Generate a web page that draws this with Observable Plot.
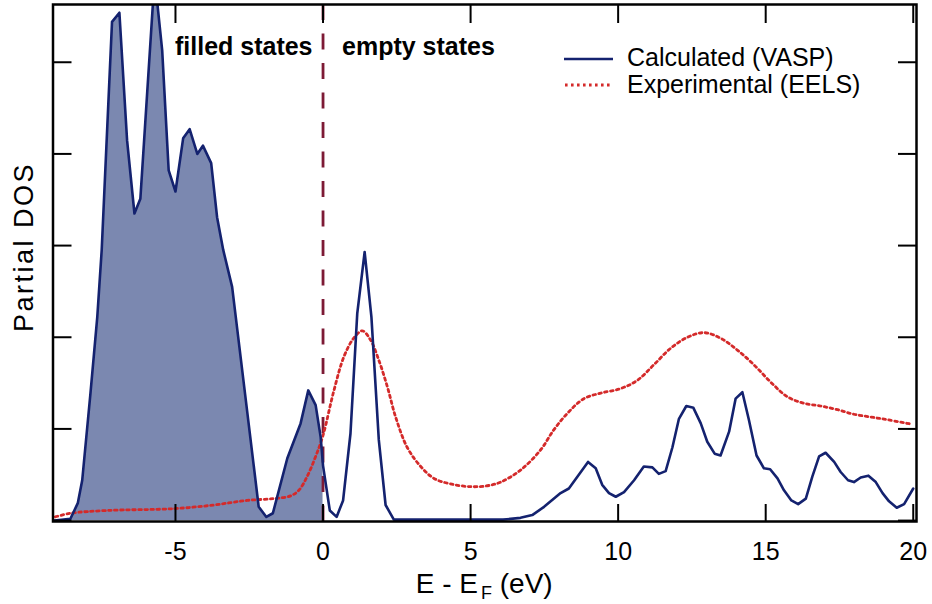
<!DOCTYPE html>
<html>
<head>
<meta charset="utf-8">
<script src="https://cdn.jsdelivr.net/npm/d3@7"></script>
<script src="https://cdn.jsdelivr.net/npm/@observablehq/plot@0.6"></script>
<style>
  html, body { margin: 0; padding: 0; background: #fff; }
  #chart { width: 932px; height: 604px; }
  svg { display: block; }
</style>
</head>
<body>
<div id="chart"></div>
<script>
// Calculated partial DOS (VASP): energy relative to the Fermi level (eV) and DOS
const calcEnergy = [
  -9.10, -8.56, -8.31, -8.16, -7.88, -7.65, -7.50, -7.15, -6.90, -6.64,
  -6.39, -6.19, -5.76, -5.62, -5.45, -5.23, -5.00, -4.74, -4.52, -4.26,
  -4.07, -3.79, -3.59, -3.38, -3.08, -2.18, -1.92, -1.70, -1.21, -0.76,
  -0.50, -0.25, -0.08, 0.00, 0.23, 0.46, 0.68, 0.93, 1.16, 1.41,
  1.64, 1.89, 2.12, 2.40, 6.10, 6.69, 7.09, 7.49, 8.05, 8.33,
  8.98, 9.24, 9.46, 9.69, 9.92, 10.20, 10.54, 10.87, 11.16, 11.38,
  11.61, 11.84, 12.06, 12.31, 12.55, 12.80, 13.02, 13.27, 13.47, 13.76,
  13.98, 14.21, 14.43, 14.69, 14.94, 15.15, 15.40, 15.62, 15.87, 16.10,
  16.36, 16.58, 16.81, 17.03, 17.32, 17.54, 17.79, 17.99, 18.22, 18.48,
  18.73, 18.96, 19.18, 19.44, 19.69, 20.00
];
const calcDos = [
  0.00, 0.02, 0.19, 0.44, 1.39, 2.22, 2.95, 5.44, 5.54, 4.15,
  3.35, 3.51, 5.66, 5.66, 5.13, 3.82, 3.59, 4.17, 4.27, 4.00,
  4.09, 3.90, 3.31, 2.95, 2.55, 0.15, 0.04, 0.08, 0.68, 1.06,
  1.42, 1.26, 0.91, 0.60, 0.11, 0.04, 0.22, 0.95, 2.26, 2.93,
  2.22, 0.88, 0.17, 0.01, 0.01, 0.03, 0.06, 0.15, 0.30, 0.35,
  0.64, 0.57, 0.39, 0.30, 0.26, 0.31, 0.44, 0.59, 0.58, 0.51,
  0.54, 0.80, 1.11, 1.25, 1.23, 1.06, 0.86, 0.73, 0.71, 0.97,
  1.33, 1.40, 1.10, 0.71, 0.57, 0.56, 0.46, 0.33, 0.22, 0.18,
  0.24, 0.48, 0.70, 0.74, 0.64, 0.53, 0.44, 0.42, 0.47, 0.49,
  0.42, 0.30, 0.21, 0.14, 0.18, 0.35
];

// Experimental spectrum (EELS), same energy axis
const eelsEnergy = [
  -9.07, -8.56, -7.32, -5.06, -3.70, -2.57, -1.67, -1.10, -0.82, -0.54,
  -0.25, 0.00, 0.37, 0.71, 1.04, 1.33, 1.61, 1.89, 2.18, 2.46,
  2.85, 3.31, 3.76, 4.32, 5.00, 5.57, 6.02, 6.69, 7.37, 7.82,
  8.28, 8.84, 9.41, 10.08, 10.65, 11.21, 11.78, 12.35, 12.91, 13.47,
  14.04, 14.60, 15.17, 15.74, 16.30, 16.86, 17.43, 17.99, 18.56, 19.13,
  19.97
];
const eelsIntensity = [
  0.04, 0.08, 0.11, 0.13, 0.17, 0.22, 0.24, 0.27, 0.33, 0.48,
  0.70, 0.93, 1.42, 1.79, 1.99, 2.07, 1.97, 1.75, 1.46, 1.13,
  0.80, 0.59, 0.46, 0.40, 0.37, 0.38, 0.42, 0.55, 0.77, 0.99,
  1.17, 1.33, 1.39, 1.44, 1.53, 1.70, 1.88, 2.00, 2.05, 1.99,
  1.86, 1.70, 1.51, 1.35, 1.28, 1.25, 1.21, 1.16, 1.13, 1.10,
  1.05
];

const xTicks = [-5, 0, 5, 10, 15, 20];
const yTicks = [0, 1, 2, 3, 4, 5];
const fermiLevel = 0;
const seriesNames = ["Calculated (VASP)", "Experimental (EELS)"];
const regionLabels = ["filled states", "empty states"];
const yLabel = "Partial DOS";

const calc = calcEnergy.map((e, i) => ({energy: e, dos: calcDos[i]}));
const eels = eelsEnergy.map((e, i) => ({energy: e, intensity: eelsIntensity[i]}));
const filled = calc.filter(d => d.energy <= fermiLevel);

const W = 932, H = 604;
const mt = 4, mr = 16, mb = 83, ml = 52.5;
const innerW = W - ml - mr, innerH = H - mt - mb;

const colors = {
  fill: "#7b88b0",
  calc: "#14226f",
  eels: "#d42a2a",
  fermi: "#7d1a35"
};
const dotted = "2.6,3.4";
const font = "'Liberation Sans', Arial, Helvetica, sans-serif";

const chart = Plot.plot({
  width: W,
  height: H,
  marginTop: mt,
  marginRight: mr,
  marginBottom: mb,
  marginLeft: ml,
  style: {fontFamily: font, background: "#fff", color: "#000"},
  x: {domain: [-9.15, 20.11]},
  y: {domain: [-0.01, 5.63], axis: null},
  marks: [
    // occupied states shaded below the Fermi level
    Plot.areaY(filled, {x: "energy", y: "dos", fill: colors.fill, clip: true}),
    Plot.ruleX([fermiLevel], {stroke: colors.fermi, strokeWidth: 2.8, strokeDasharray: "16,13.5"}),
    Plot.line(eels, {x: "energy", y: "intensity", stroke: colors.eels, strokeWidth: 2.8,
      strokeDasharray: dotted, curve: "catmull-rom", clip: true}),
    Plot.line(calc, {x: "energy", y: "dos", stroke: colors.calc, strokeWidth: 2.6,
      strokeLinejoin: "round", clip: true}),
    // inward ticks on all four sides
    Plot.ruleX(xTicks, {insetTop: innerH - 17, stroke: "#000", strokeWidth: 2}),
    Plot.ruleX(xTicks, {insetBottom: innerH - 19, stroke: "#000", strokeWidth: 2}),
    Plot.ruleY(yTicks, {insetRight: innerW - 19, stroke: "#000", strokeWidth: 2}),
    Plot.ruleY(yTicks, {insetLeft: innerW - 18, stroke: "#000", strokeWidth: 2}),
    Plot.axisX(xTicks, {tickSize: 0, tickPadding: 21, fontSize: 25, label: null,
      tickFormat: d => String(d)}),
    Plot.frame({stroke: "#000", strokeWidth: 2.5}),
    // region annotations either side of the Fermi level
    Plot.text([regionLabels[0]], {text: d => d, x: () => fermiLevel, frameAnchor: "top",
      textAnchor: "end", lineAnchor: "top", dx: -10.5, dy: 33, fontSize: 25, fontWeight: "bold"}),
    Plot.text([regionLabels[1]], {text: d => d, x: () => fermiLevel, frameAnchor: "top",
      textAnchor: "start", lineAnchor: "top", dx: 19, dy: 33, fontSize: 25, fontWeight: "bold"})
  ]
});

document.getElementById("chart").appendChild(chart);

const svg = d3.select(chart);
const xs = chart.scale("x");
const xCenter = (xs.range[0] + xs.range[1]) / 2;

// x-axis title with subscripted F
const xt = svg.append("text")
  .attr("x", xCenter)
  .attr("y", 593)
  .attr("text-anchor", "middle")
  .attr("font-family", font)
  .attr("font-size", 28)
  .attr("fill", "#000");
xt.append("tspan").text("E - E");
xt.append("tspan").attr("font-size", 18).attr("dy", 6).attr("dx", 3).text("F");
xt.append("tspan").attr("dy", -6).text(" (eV)");

// y-axis title
svg.append("text")
  .attr("transform", "translate(33,247) rotate(-90)")
  .attr("text-anchor", "middle")
  .attr("font-family", font)
  .attr("font-size", 27)
  .attr("letter-spacing", "2.5px")
  .attr("fill", "#000")
  .text(yLabel);

// legend
const legend = svg.append("g")
  .attr("font-family", font)
  .attr("font-size", 25)
  .attr("text-anchor", "start");
const legendRows = [
  {name: seriesNames[0], stroke: colors.calc, dash: null, width: 2.4, x1: 564, x2: 613, y: 59, ty: 66},
  {name: seriesNames[1], stroke: colors.eels, dash: dotted, width: 2.8, x1: 565, x2: 611, y: 85, ty: 93}
];
legendRows.forEach(r => {
  legend.append("line")
    .attr("x1", r.x1).attr("x2", r.x2).attr("y1", r.y).attr("y2", r.y)
    .attr("stroke", r.stroke).attr("stroke-width", r.width)
    .attr("stroke-dasharray", r.dash);
  legend.append("text")
    .attr("x", 627).attr("y", r.ty)
    .attr("text-anchor", "start")
    .attr("fill", "#000")
    .text(r.name);
});
</script>
</body>
</html>
